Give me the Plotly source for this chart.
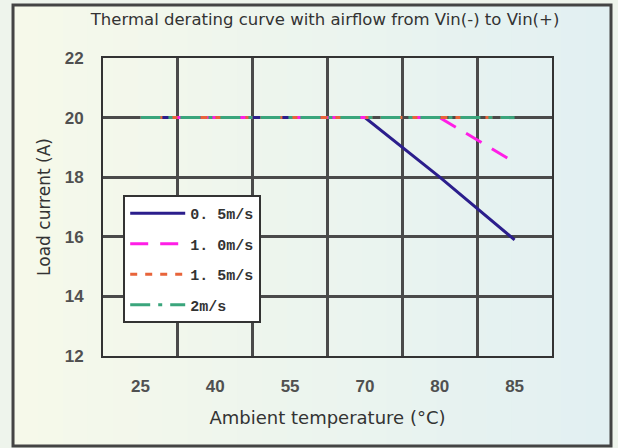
import plotly.graph_objects as go

temps = ["25", "40", "55", "70", "80", "85"]
s05 = [20, 20, 20, 20, 18.0, 15.9]
s10 = [20, 20, 20, 20, 20, 18.5]
s15 = [20, 20, 20, 20, 20, 20]
s20 = [20, 20, 20, 20, 20, 20]
names = ["0. 5m/s", "1. 0m/s", "1. 5m/s", "2m/s"]
yticks = [12, 14, 16, 18, 20, 22]

fig = go.Figure()
styles = [
    ("#2b1e8c", "solid"),
    ("#ff1ee6", "18px,12px"),
    ("#e8643a", "7px,8px"),
    ("#3aa57c", "20px,8px,4px,8px"),
]
for i, (vals, nm) in enumerate(zip([s05, s10, s15, s20], names)):
    c, d = styles[i]
    fig.add_trace(go.Scatter(x=temps, y=vals, mode="lines", name=nm,
                             legendgroup=nm,
                             line=dict(color=c, width=3, dash=d)))

# background gradient stripes and outer frame
n = 24
x0, x1 = -0.2004, 1.1314
y0, y1 = -0.302, 1.178
cL = (246, 249, 234)
cR = (226, 240, 242)
shapes = []
for k in range(n):
    t = k / (n - 1)
    col = "rgb(%d,%d,%d)" % tuple(round(a + (b - a) * t) for a, b in zip(cL, cR))
    shapes.append(dict(type="rect", xref="paper", yref="paper", layer="below",
                       x0=x0 + (x1 - x0) * k / n, x1=x0 + (x1 - x0) * (k + 1) / n + 0.002,
                       y0=y0, y1=y1, fillcolor=col, line=dict(width=0)))
shapes.append(dict(type="rect", xref="paper", yref="paper", layer="above",
                   x0=x0, x1=x1, y0=y0, y1=y1, line=dict(color="#444", width=3)))

fig.update_layout(
    width=618, height=448,
    margin=dict(l=103, r=66, t=58, b=92),
    paper_bgcolor="#eef4ec",
    plot_bgcolor="rgba(245,249,241,0.92)",
    shapes=shapes,
    showlegend=True,
    title=dict(text="Thermal derating curve with airflow from Vin(-) to Vin(+)",
               x=0.526, xanchor="center", y=0.957, yanchor="middle",
               font=dict(family="DejaVu Sans", size=16.5, color="#333")),
    legend=dict(x=0.045, y=0.54, xanchor="left", yanchor="top",
                bgcolor="white", bordercolor="#333", borderwidth=2,
                tracegroupgap=8, itemwidth=55,
                font=dict(family="Liberation Mono", size=15, color="#333", weight="bold")),
    font=dict(family="Liberation Sans", color="#222"),
)
fig.update_xaxes(type="category", categoryorder="array", categoryarray=temps,
                 range=[-0.5, 5.5],
                 tickson="boundaries", showgrid=True, gridcolor="#4a4a4a", gridwidth=2.5,
                 showline=True, linecolor="#333", linewidth=2, mirror=True,
                 ticks="", ticklabelstandoff=14,
                 tickfont=dict(family="Liberation Sans", size=17, color="#505050", weight="bold"),
                 title=dict(text="Ambient temperature (°C)", standoff=16,
                            font=dict(family="DejaVu Sans", size=18, color="#333")))
fig.update_yaxes(range=[12, 22], tickvals=yticks, showgrid=True, gridcolor="#4a4a4a", gridwidth=2.5,
                 showline=True, linecolor="#333", linewidth=2, mirror=True, zeroline=False,
                 ticks="", ticklabelstandoff=14,
                 tickfont=dict(family="Liberation Sans", size=17, color="#505050", weight="bold"),
                 title=dict(text="Load current (A)", standoff=10,
                            font=dict(family="DejaVu Sans", size=17, color="#333")))

fig.write_html("out.html", config={"displayModeBar": False},
               post_script="document.body.style.margin='0px';document.body.style.padding='0px';")
